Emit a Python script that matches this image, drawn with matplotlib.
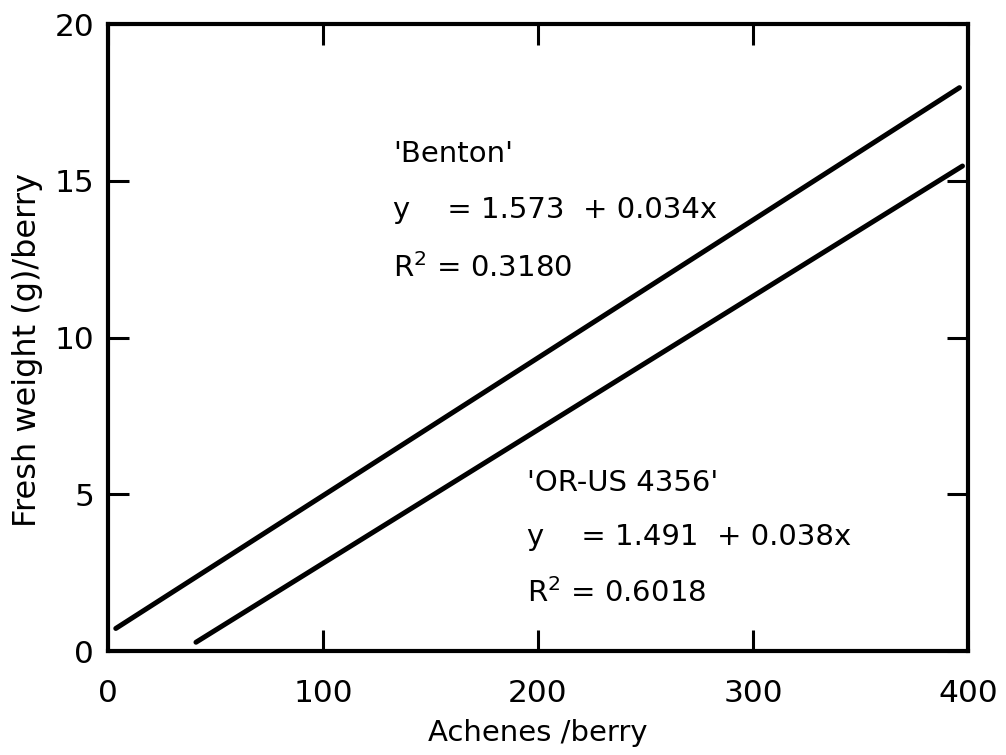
import numpy as np
import matplotlib
matplotlib.use('Agg')
import matplotlib.pyplot as plt

plt.rcParams.update({'font.family': 'DejaVu Sans', 'mathtext.fontset': 'dejavusans'})

#%% Data
benton_x = [3.6, 396.0]
benton_y = [0.72, 17.97]
orus_x = [40.9, 397.4]
orus_y = [0.28, 15.47]

x_ticks = [0, 100, 200, 300, 400]
y_ticks = [0, 5, 10, 15, 20]

benton_text = ["'Benton'", "y    = 1.573  + 0.034x", r"R$^{2}$ = 0.3180"]
orus_text = ["'OR-US 4356'", "y    = 1.491  + 0.038x", r"R$^{2}$ = 0.6018"]

#%% Plot
fig = plt.figure(figsize=(10.06, 7.55), dpi=100)
ax = fig.add_axes([0.1074, 0.1377, 0.8549, 0.8305])

ax.plot(benton_x, benton_y, color='black', lw=3.6, solid_capstyle='round')
ax.plot(orus_x, orus_y, color='black', lw=3.6, solid_capstyle='round')

ax.set_xlim(0, 400)
ax.set_ylim(0, 20)
ax.set_xticks(x_ticks)
ax.set_yticks(y_ticks)
ax.tick_params(direction='in', length=15, width=2.2, top=True, right=True,
               labelsize=22.5, colors='black')
ax.tick_params(axis='x', pad=20)
ax.tick_params(axis='y', pad=10)
for s in ax.spines.values():
    s.set_linewidth(3)

ax.set_xlabel('Achenes /berry', fontsize=21)
ax.xaxis.set_label_coords(0.5, -0.108)
ax.set_ylabel('Fresh weight (g)/berry', fontsize=23)
ax.yaxis.set_label_coords(-0.076, 0.48)

# annotations
for txt, yy in zip(benton_text, [15.61, 13.81, 11.94]):
    ax.text(132.6, yy, txt, fontsize=21, va='baseline', ha='left')
for txt, yy in zip(orus_text, [5.11, 3.38, 1.57]):
    ax.text(195.0, yy, txt, fontsize=21, va='baseline', ha='left')

fig.savefig('out.png', dpi=100)
